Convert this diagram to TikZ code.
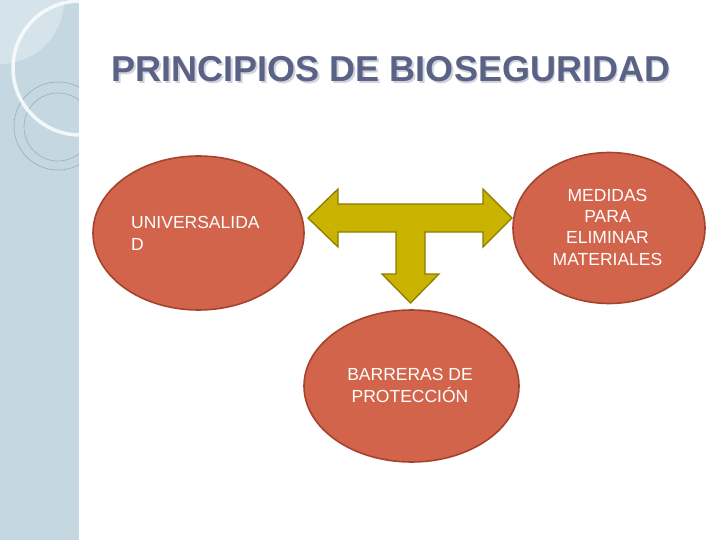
\documentclass[tikz,border=0pt]{standalone}
\usepackage{fontspec}
\setmainfont{Liberation Sans}
\usetikzlibrary{shapes.geometric}
\definecolor{side}{HTML}{C5D8E2}
\definecolor{sidelight}{HTML}{D5E3EA}
\definecolor{ringgray}{HTML}{98AEBA}
\definecolor{titlec}{HTML}{5A6286}
\definecolor{titlesh}{HTML}{D0D3DC}
\definecolor{bubblefill}{HTML}{D2644B}
\definecolor{bubbleedge}{HTML}{A5432F}
\definecolor{arrowfill}{HTML}{C9B300}
\definecolor{arrowedge}{HTML}{8C7C00}
\tikzset{
  bubble/.style={ellipse, fill=bubblefill, draw=bubbleedge, line width=1.6pt, inner sep=0pt},
  lbl/.style={text=white, font=\fontsize{17.5}{21.3}\selectfont, inner sep=0pt},
  tarrow/.style={fill=arrowfill, draw=arrowedge, line width=1.3pt, line join=miter}
}
\begin{document}
\begin{tikzpicture}[x=1pt,y=-1pt]
\useasboundingbox (0,0) rectangle (720,540);
\fill[white] (0,0) rectangle (720,540);
% sidebar
\fill[side] (0,0) rectangle (79,540);
\begin{scope}
  \clip (0,0) rectangle (79,540);
  \fill[sidelight] (0,0) -- (64,0) arc[start angle=0, end angle=90, radius=64] -- cycle;
  \draw[ringgray, line width=0.6pt] (58,126) circle[radius=44];
  \draw[ringgray, line width=0.6pt] (58,127) circle[radius=34];
  \draw[white, opacity=0.8, line width=3.5pt] (80,68) circle[radius=67];
\end{scope}
% title
\node[text=titlesh, anchor=base, inner sep=0pt, font=\fontsize{36}{40}\selectfont\bfseries] at (392.2,83.2) {PRINCIPIOS DE BIOSEGURIDAD};
\node[text=titlec, anchor=base, inner sep=0pt, font=\fontsize{36}{40}\selectfont\bfseries] (title) at (391,82) {PRINCIPIOS DE BIOSEGURIDAD};
% bubbles
\node[bubble, minimum width=211pt, minimum height=154pt] (univ) at (198.5,233) {};
\node[bubble, minimum width=192pt, minimum height=151pt] (medidas) at (609,228) {};
\node[bubble, minimum width=215pt, minimum height=152pt] (barreras) at (411.5,386) {};
% T arrow
\coordinate (lt) at (308,218);
\coordinate (rt) at (512,218);
\coordinate (dt) at (410.5,303);
\draw[tarrow] (lt) -- (338,189) -- (338,204) -- (483,204) -- (483,189) -- (rt)
  -- (483,247) -- (483,232) -- (425,232) -- (425,274) -- (439,274) -- (dt)
  -- (382,274) -- (396,274) -- (396,232) -- (338,232) -- (338,247) -- cycle;
% labels (base anchor = baseline of last line)
\node[lbl, anchor=base west, align=left] (univt) at (131,250) {UNIVERSALIDA\\D};
\node[lbl, anchor=base, align=center] (medt) at (607.5,265) {MEDIDAS\\PARA\\ELIMINAR\\MATERIALES};
\node[lbl, anchor=base, align=center] (bart) at (410,402) {BARRERAS DE\\PROTECCIÓN};
\end{tikzpicture}
\end{document}
